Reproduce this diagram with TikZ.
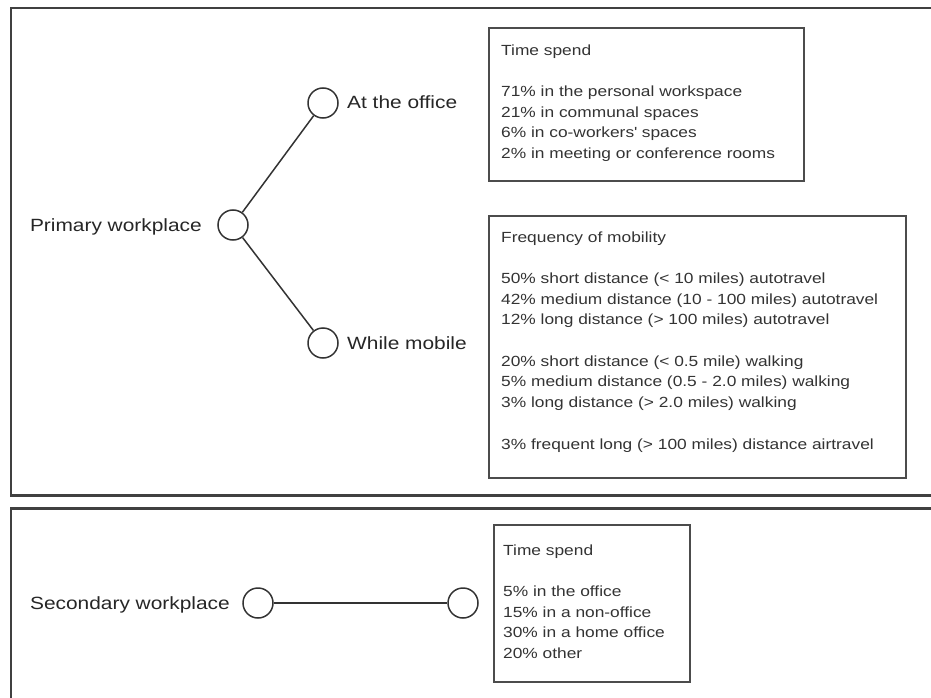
\documentclass[tikz,border=0pt]{standalone}
\usepackage{fontspec}
\setmainfont{Liberation Sans}[FakeStretch=1.18]
\begin{document}
\begin{tikzpicture}[x=1pt,y=-1pt,
  frame/.style={draw=black!75,line width=2.4pt},
  infobox/.style={draw=black!70,line width=1.8pt,rectangle,inner sep=0pt,anchor=north west},
  % multi-line texts are placed by the baseline of their last line
  infotext/.style={anchor=base west,align=left,inner sep=0pt,text=black!80,
    font=\fontsize{14.7}{20.7}\selectfont},
  dot/.style={draw=black!80,line width=1.5pt,circle,minimum size=30pt,inner sep=0pt},
  label/.style={inner sep=0pt,text=black!85,font=\fontsize{17.7}{21}\selectfont},
  link/.style={draw=black!80,line width=1.5pt}]
\useasboundingbox (0,0) rectangle (931,698);
\clip (0,0) rectangle (931,698);

% outer frames (open at the right and bottom edges)
\draw[frame] (940,8) -- (11,8) -- (11,495.5) -- (940,495.5);
\draw[frame] (940,508.5) -- (11,508.5) -- (11,710);

% primary workplace tree
\node[dot] (prim) at (233,225) {};
\node[dot] (office) at (323,103) {};
\node[dot] (mobile) at (323,343) {};
\node[label,anchor=base east] (primlbl) at (202,231) {Primary workplace};
\node[label,anchor=base west] (officelbl) at (347,109) {At the office};
\node[label,anchor=base west] (mobilelbl) at (347,349) {While mobile};
\draw[link] (prim) -- (office);
\draw[link] (prim) -- (mobile);

% info boxes of the primary workplace
\node[infobox,minimum width=315pt,minimum height=153pt] (box1) at (488,27) {};
\node[infotext] (box1txt) at (501,158.5) {Time spend\\[20.7pt]
71\% in the personal workspace\\
21\% in communal spaces\\
6\% in co-workers\textquotesingle{} spaces\\
2\% in meeting or conference rooms};

\node[infobox,minimum width=417pt,minimum height=262pt] (box2) at (488,215) {};
\node[infotext] (box2txt) at (501,449) {Frequency of mobility\\[20.7pt]
50\% short distance (< 10 miles) autotravel\\
42\% medium distance (10 - 100 miles) autotravel\\
12\% long distance (> 100 miles) autotravel\\[20.7pt]
20\% short distance (< 0.5 mile) walking\\
5\% medium distance (0.5 - 2.0 miles) walking\\
3\% long distance (> 2.0 miles) walking\\[20.7pt]
3\% frequent long (> 100 miles) distance airtravel};

% secondary workplace
\node[dot] (sec) at (258,603) {};
\node[dot] (secend) at (463,603) {};
\node[label,anchor=base east] (seclbl) at (230,609) {Secondary workplace};
\draw[link] (sec) -- (secend);

\node[infobox,minimum width=196pt,minimum height=157pt] (box3) at (493,524) {};
\node[infotext] (box3txt) at (503,658.5) {Time spend\\[20.7pt]
5\% in the office\\
15\% in a non-office\\
30\% in a home office\\
20\% other};
\end{tikzpicture}
\end{document}
